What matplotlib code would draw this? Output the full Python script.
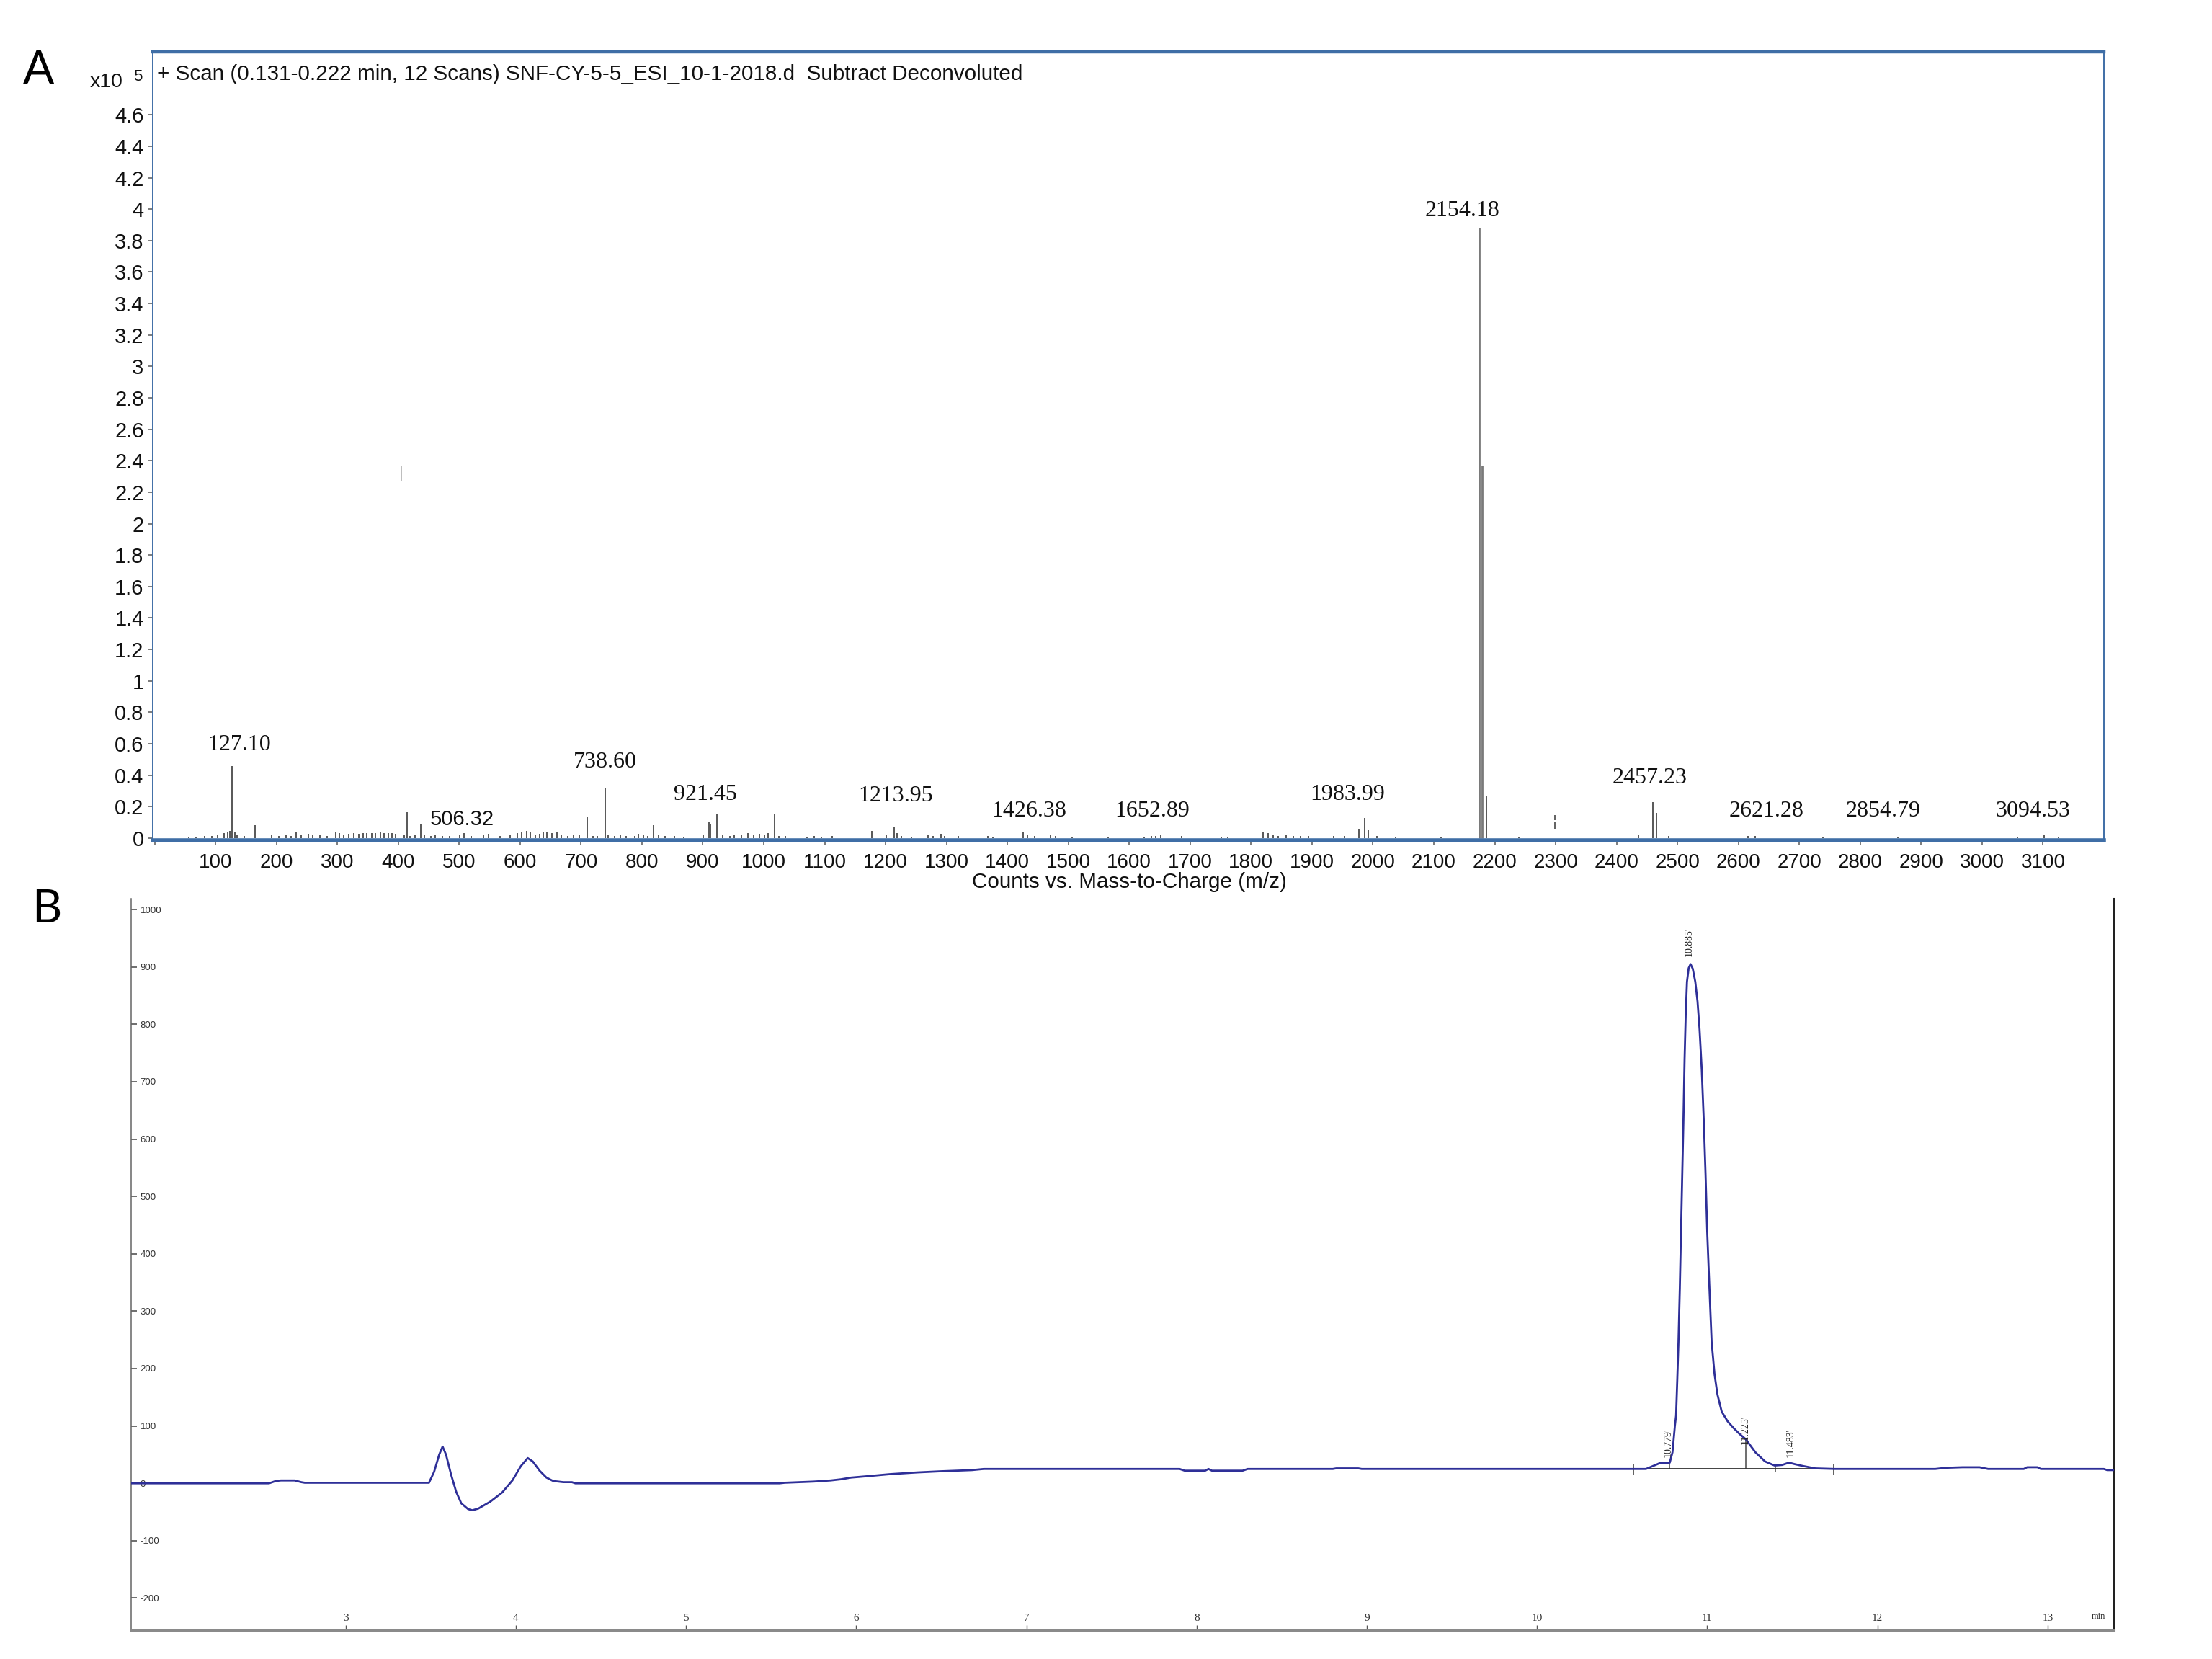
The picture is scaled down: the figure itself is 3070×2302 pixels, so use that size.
import matplotlib
matplotlib.use("Agg")
import matplotlib.pyplot as plt
import numpy as np

# ---------------- Panel A data (m/z, counts x10^5) ----------------
mz_peaks = [
    56.6, 68.4, 82.2, 94.1, 103.9, 113.8, 119.7, 123.7, 127.1, 131.6, 135.5, 147.3, 165.1,
    192.7, 204.5, 216.3, 224.3, 232.2, 240.1, 251.9, 259.8, 271.6, 283.4, 297.3, 303.2,
    311.0, 318.9, 326.9, 334.7, 342.6, 348.5, 356.5, 362.4, 370.2, 376.1, 384.0, 389.9,
    395.9, 409.7, 414.8, 419.5, 427.5, 436.5, 443.2, 453.1, 461.0, 472.8, 484.6, 500.4,
    508.3, 520.1, 539.8, 547.7, 567.5, 583.2, 595.1, 603.0, 610.9,
    616.8, 624.7, 632.6, 638.5, 644.4, 652.3, 660.2, 668.1, 677.9, 687.8, 697.7, 710.7,
    719.4, 727.2, 740.3, 745.0, 754.9, 764.7, 774.6, 788.4, 794.3, 802.2, 810.1, 819.2,
    827.8, 837.7, 853.5, 869.3, 900.8, 910.7, 912.6, 923.3, 932.4, 944.2, 952.1, 963.9,
    973.8, 983.6, 993.5, 1001.4, 1007.3, 1017.9, 1025.0, 1034.9, 1070.4, 1082.3, 1094.1,
    1111.9, 1177.0, 1200.6, 1214.4, 1218.4,
    1226, 1242, 1269.6, 1277.5, 1291.3, 1297, 1318.9, 1368.2, 1376, 1426.2, 1433.3, 1445,
    1470.8, 1479, 1506.3, 1565.4, 1624.6, 1636.5, 1644, 1652.2, 1685.8, 1750.8, 1762,
    1819.9, 1827.8,
    1836, 1845, 1857, 1869, 1881, 1894, 1936, 1953, 1977, 1986, 1992, 2007, 2037, 2112,
    2174, 2179, 2186, 2239, 2436, 2460, 2465, 2486, 2616, 2628, 2739, 2862, 3058, 3102, 3126,
]
counts_peaks = [
    0.009, 0.009, 0.015, 0.012, 0.023, 0.031, 0.038, 0.046, 0.46, 0.038, 0.023, 0.012, 0.08,
    0.023, 0.012, 0.023, 0.012, 0.038, 0.023, 0.028, 0.023, 0.018, 0.015, 0.038, 0.031,
    0.023, 0.028, 0.034, 0.028, 0.031, 0.034, 0.031, 0.034, 0.038, 0.034, 0.031, 0.034,
    0.028, 0.023, 0.165, 0.015, 0.023, 0.09, 0.018, 0.015, 0.018, 0.012, 0.012, 0.023,
    0.031, 0.012, 0.018, 0.028, 0.015, 0.018, 0.031, 0.038, 0.046,
    0.038, 0.023, 0.028, 0.043, 0.038, 0.034, 0.038, 0.023, 0.015, 0.018, 0.023, 0.138,
    0.015, 0.012, 0.32, 0.018, 0.015, 0.018, 0.012, 0.012, 0.028, 0.018, 0.015, 0.084,
    0.018, 0.012, 0.012, 0.009, 0.018, 0.107, 0.092, 0.15, 0.018, 0.015, 0.018, 0.023,
    0.031, 0.023, 0.028, 0.018, 0.031, 0.15, 0.015, 0.012, 0.009, 0.012, 0.009,
    0.015, 0.046, 0.018, 0.075, 0.031,
    0.012, 0.009, 0.023, 0.015, 0.028, 0.015, 0.012, 0.012, 0.009, 0.043, 0.018, 0.012,
    0.018, 0.012, 0.009, 0.009, 0.009, 0.012, 0.012, 0.023, 0.012, 0.009, 0.009,
    0.038, 0.031,
    0.02, 0.015, 0.02, 0.015, 0.015, 0.012, 0.012, 0.012, 0.06, 0.13, 0.05, 0.012, 0.006, 0.006,
    3.88, 2.37, 0.27, 0.006, 0.02, 0.23, 0.16, 0.015, 0.015, 0.015, 0.009, 0.009, 0.009, 0.02, 0.009,
]
tall_mz = [2174, 2179]

# odd broken marks seen in the spectrum
odd_mz = [2299, 2299, 405]
odd_lo = [0.06, 0.115, 2.27]
odd_hi = [0.105, 0.145, 2.37]

peak_label_text = ["127.10", "506.32", "738.60", "921.45", "1213.95", "1426.38", "1652.89",
                   "1983.99", "2154.18", "2457.23", "2621.28", "2854.79", "3094.53"]
peak_label_x = [139, 505, 740, 904, 1217, 1436, 1638, 1958, 2147, 2454, 2646, 2838, 3084]
peak_label_y = [0.557, 0.08, 0.45, 0.243, 0.235, 0.138, 0.138, 0.243, 3.955, 0.35, 0.138, 0.138, 0.138]
peak_label_sans = [False, True, False, False, False, False, False, False, False, False, False, False, False]

xticks_A = [0, 100, 200, 300, 400, 500, 600, 700, 800, 900, 1000, 1100, 1200, 1300, 1400, 1500,
            1600, 1700, 1800, 1900, 2000, 2100, 2200, 2300, 2400, 2500, 2600, 2700, 2800, 2900,
            3000, 3100]
xticklabels_A = [""] + [str(v) for v in xticks_A[1:]]
yticks_A = [0, 0.2, 0.4, 0.6, 0.8, 1, 1.2, 1.4, 1.6, 1.8, 2, 2.2, 2.4, 2.6, 2.8, 3, 3.2, 3.4,
            3.6, 3.8, 4, 4.2, 4.4, 4.6]
yticklabels_A = ["0", "0.2", "0.4", "0.6", "0.8", "1", "1.2", "1.4", "1.6", "1.8", "2", "2.2",
                 "2.4", "2.6", "2.8", "3", "3.2", "3.4", "3.6", "3.8", "4", "4.2", "4.4", "4.6"]

# ---------------- Panel B data (min, mAU) ----------------
t_early = [1.74, 2.55, 2.59, 2.62, 2.70, 2.74, 2.76, 3.49, 3.52, 3.55, 3.57, 3.59, 3.62, 3.65,
           3.68, 3.72, 3.745, 3.78, 3.85, 3.92, 3.98, 4.03, 4.07, 4.10, 4.14, 4.18, 4.22, 4.28,
           4.33, 4.35]
v_early = [0, 0, 4, 5, 5, 2, 1, 1, 20, 50, 64, 50, 15, -15,
           -35, -45, -47, -44, -32, -16, 5, 30, 44, 38, 22, 10, 4, 2,
           2, 0]
t_mid = [5.55, 5.58, 5.75, 5.85, 5.91, 5.97, 6.05, 6.20, 6.36, 6.50, 6.68, 6.75,
         7.32, 7.90, 7.93, 8.05, 8.07, 8.09, 8.27, 8.30, 8.80, 8.82, 8.95, 8.97, 10.58, 10.64,
         10.68, 10.72, 10.78]
v_mid = [0, 1, 3, 5, 7, 10, 12, 16, 19, 21, 23, 25,
         25, 25, 22, 22, 25, 22, 22, 25, 25, 26, 26, 25, 25, 25,
         30, 35, 36]
t_peak = [10.796, 10.81, 10.817, 10.824, 10.831, 10.839, 10.846, 10.853, 10.860, 10.867,
          10.874, 10.881, 10.891, 10.902, 10.915, 10.930, 10.943, 10.955, 10.968, 10.980,
          10.990, 11.000, 11.013, 11.026, 11.043, 11.060, 11.085, 11.120, 11.156, 11.190, 11.226]
v_peak = [54, 100, 118, 180, 246, 340, 438, 535, 630, 740,
          820, 874, 898, 905, 897, 874, 840, 791, 720, 630,
          540, 438, 340, 246, 190, 155, 125, 108, 96, 86, 77]
t_late = [11.283, 11.340, 11.396, 11.44, 11.48, 11.52, 11.565, 11.636, 11.75,
          12.34, 12.40, 12.50, 12.60, 12.65, 12.86, 12.88, 12.94, 12.96, 13.33, 13.35, 13.39]
v_late = [54, 38, 31, 32, 36, 33, 30, 26, 25,
          25, 27, 28, 28, 25, 25, 28, 28, 25, 25, 23, 23]

rt_labels = ["10.779'", "10.885'", "11.225'", "11.483'"]
rt_label_x = [10.77, 10.895, 11.225, 11.49]
rt_label_y = [45, 918, 68, 45]

integ_ticks_t = [10.565, 11.745]
drop_t = [10.779, 11.225, 11.40]
drop_lo = [26, 26, 20]
drop_hi = [36, 77, 32]
integ_base_t = [10.64, 11.63]
integ_base_v = [26, 26]

yticks_B = [-200, -100, 0, 100, 200, 300, 400, 500, 600, 700, 800, 900, 1000]
xticks_B = [3, 4, 5, 6, 7, 8, 9, 10, 11, 12, 13]

# ---------------- Figure ----------------
W, H = 3070, 2302
fig = plt.figure(figsize=(W / 100, H / 100), dpi=100)
SANS = "Liberation Sans"
SERIF = "Liberation Serif"

def fx(px):
    return px / W

def fy(py):
    return 1 - py / H

# ===== Panel A =====
axA = fig.add_axes([fx(212), fy(1166), fx(2920) - fx(212), fy(72) - fy(1166)])
axA.set_xlim(-3, 3200)
axA.set_ylim(-0.014, 5.0)
frame_blue = "#3f6ea6"
for side, lw in (("top", 3.2), ("bottom", 4.0), ("left", 1.4), ("right", 1.4)):
    axA.spines[side].set_color(frame_blue)
    axA.spines[side].set_linewidth(lw)

small_mz = [m for m in mz_peaks if m not in tall_mz]
small_h = [h for m, h in zip(mz_peaks, counts_peaks) if m not in tall_mz]
tall_h = [h for m, h in zip(mz_peaks, counts_peaks) if m in tall_mz]
axA.vlines(small_mz, 0, small_h, color="#4a4a4a", linewidth=1.3, zorder=2)
axA.vlines(tall_mz, 0, tall_h, color="#7a7a7a", linewidth=2.0, zorder=2)
axA.vlines(odd_mz[:2], odd_lo[:2], odd_hi[:2], color="#555555", linewidth=1.3)
axA.vlines(odd_mz[2:], odd_lo[2:], odd_hi[2:], color="#b8b8b8", linewidth=1.3)

for s, x, y, sans in zip(peak_label_text, peak_label_x, peak_label_y, peak_label_sans):
    if sans:
        axA.text(x, y, s, ha="center", va="baseline", fontsize=21, family=SANS, color="#111111")
    else:
        axA.text(x, y, s, ha="center", va="baseline", fontsize=23, family=SERIF, color="#111111")

axA.set_xticks(xticks_A)
axA.set_xticklabels(xticklabels_A, family=SANS, fontsize=20)
axA.set_yticks(yticks_A)
axA.set_yticklabels(yticklabels_A, family=SANS, fontsize=21)
axA.tick_params(axis="x", direction="out", length=5, width=1.2, color="#666666", pad=8, labelcolor="#111111")
axA.tick_params(axis="y", direction="out", length=5, width=1.2, color="#666666", pad=4, labelcolor="#111111")

axA.set_xlabel("Counts vs. Mass-to-Charge (m/z)", family=SANS, fontsize=21.3, color="#111111")
axA.xaxis.set_label_coords(0.5004, -0.053)
axA.xaxis.label.set_va("center")

axA.text(0.0022, 0.9717, "+ Scan (0.131-0.222 min, 12 Scans) SNF-CY-5-5_ESI_10-1-2018.d  Subtract Deconvoluted",
         transform=axA.transAxes, ha="left", va="center", fontsize=21.3, family=SANS, color="#111111")

fig.text(fx(125), fy(114), "x10", ha="left", va="center", fontsize=20.5, family=SANS, color="#111111")
fig.text(fx(185), fy(106), "5", ha="left", va="center", fontsize=16, family=SANS, color="#111111")
fig.text(fx(53), fy(98), "A", ha="center", va="center", fontsize=46, family="Lato", color="black")

# ===== Panel B =====
axB = fig.add_axes([fx(182), fy(2262), fx(2934) - fx(182), fy(1247) - fy(2262)])
axB.set_xlim(1.74, 13.39)
axB.set_ylim(-256, 1019)
axB.spines["top"].set_visible(False)
axB.spines["left"].set_color("#666666")
axB.spines["left"].set_linewidth(1.1)
axB.spines["bottom"].set_color("#8a8a8a")
axB.spines["bottom"].set_linewidth(2.2)
axB.spines["right"].set_color("#222222")
axB.spines["right"].set_linewidth(1.5)

t_trace = t_early + t_mid + t_peak + t_late
v_trace = v_early + v_mid + v_peak + v_late
axB.plot(t_trace, v_trace, color="#2e2f98", linewidth=2.0, solid_joinstyle="round", zorder=3)

axB.vlines(integ_ticks_t, 15, 34, color="#444444", linewidth=1.2)
axB.vlines(drop_t, drop_lo, drop_hi, color="#555555", linewidth=1.2)
axB.plot(integ_base_t, integ_base_v, color="#333333", linewidth=1.3)

for s, x, y in zip(rt_labels, rt_label_x, rt_label_y):
    axB.text(x, y, s, rotation=90, ha="center", va="bottom", fontsize=10, family=SERIF, color="#222222")

axB.set_yticks(yticks_B)
axB.set_yticklabels([str(v) for v in yticks_B], family=SANS, fontsize=9.5, color="#333333")
axB.tick_params(axis="y", direction="in", length=6, width=1.2, color="#555555", pad=-9)
for lab in axB.get_yticklabels():
    lab.set_horizontalalignment("left")

axB.set_xticks(xticks_B)
axB.set_xticklabels([str(v) for v in xticks_B], family=SERIF, fontsize=11, color="#333333")
axB.tick_params(axis="x", direction="in", length=5, width=1.0, color="#555555", pad=-7)
for lab in axB.get_xticklabels():
    lab.set_verticalalignment("bottom")

axB.text(13.30, (2058 - 2243) / 0.796, "min", ha="center", va="center", fontsize=9, family=SERIF, color="#333333")
fig.text(fx(65), fy(1262), "B", ha="center", va="center", fontsize=46, family="Lato", color="black")

fig.savefig("out.png", dpi=100)
